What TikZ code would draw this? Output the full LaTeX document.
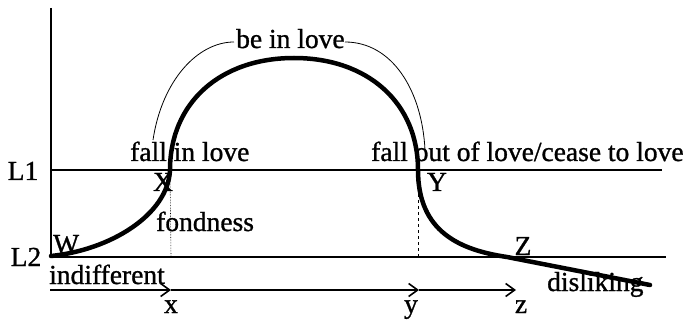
\documentclass[tikz,border=0pt]{standalone}
\usepackage{fontspec}
\setmainfont{Liberation Serif}[BoldFont=Liberation Serif,BoldFeatures={FakeBold=1.0}]
\usetikzlibrary{arrows.meta}
\begin{document}
\begin{tikzpicture}[x=1pt,y=-1pt,
  lbl/.style={inner sep=0pt,anchor=base,font=\fontsize{27.5}{31}\selectfont\bfseries},
  lblw/.style={lbl,anchor=base west},
  axis/.style={line width=2pt},
  level/.style={line width=1.4pt},
  guide/.style={line width=0.6pt},
  lovecurve/.style={line width=4.5pt,line cap=round},
  thinarc/.style={line width=0.8pt},
  timeline/.style={line width=1.8pt,-{Straight Barb[length=9pt,width=13pt,line width=1.6pt]}}]
\useasboundingbox (0,0) rectangle (685,323);
% coordinates
\coordinate (top) at (51,8);
\coordinate (o) at (51,257);
\coordinate (L1s) at (51,170);
\coordinate (L1e) at (662,170);
\coordinate (L2e) at (666,257);
\coordinate (W) at (51,256);
\coordinate (X) at (170,170);
\coordinate (Xb) at (171,257);
\coordinate (Y) at (418,170);
\coordinate (Yb) at (418,257);
\coordinate (P) at (294,58);
\coordinate (Z) at (507,257);
\coordinate (E) at (650,285);
\coordinate (t0) at (50,290);
\coordinate (tx) at (171,290);
\coordinate (ty) at (419,290);
\coordinate (tz) at (516,290);
\coordinate (a1) at (153,140);
\coordinate (a2) at (234,42);
\coordinate (a3) at (345,42);
\coordinate (a4) at (425,150);
% texts
\node[lbl] (nL1) at (23,180) {L1};
\node[lbl] (nL2) at (26,266) {L2};
\node[lblw] (nW) at (53,253) {W};
\node[lbl] (nX) at (163,191) {X};
\node[lbl] (nY) at (437,191) {Y};
\node[lbl] (nZ) at (523,255) {Z};
\node[lblw] (fin) at (130,161) {fall in love};
\node[lblw] (fout) at (371,161) {fall out of love/cease to love};
\node[lblw] (bil) at (236,48) {be in love};
\node[lblw] (fond) at (156,231) {fondness};
\node[lblw] (ind) at (49,284) {indifferent};
\node[lblw] (dis) at (547,291) {disliking};
\node[lbl] (lx) at (171,313) {x};
\node[lbl] (ly) at (411,313) {y};
\node[lbl] (lz) at (521,313) {z};
% axes and levels
\draw[axis] (top) -- (o);
\draw[level] (L1s) -- (L1e);
\draw[axis] (o) -- (L2e);
\draw[guide,densely dotted] (X) -- (Xb);
\draw[guide,dashed] (Y) -- (Yb);
% time line
\draw[timeline] (t0) -- (tx);
\draw[timeline] (tx) -- (ty);
\draw[timeline] (ty) -- (tz);
% thin arc
\draw[thinarc] (a1) .. controls (162,80) and (198,42) .. (a2);
\draw[thinarc] (a3) .. controls (392,42) and (422,90) .. (a4);
% main curve
\draw[lovecurve] (W) .. controls (110,250) and (168,215) .. (X)
  .. controls (170,103) and (220,58) .. (P)
  .. controls (368,58) and (418,103) .. (Y)
  .. controls (418,232) and (460,250) .. (Z) -- (E);
\end{tikzpicture}
\end{document}
